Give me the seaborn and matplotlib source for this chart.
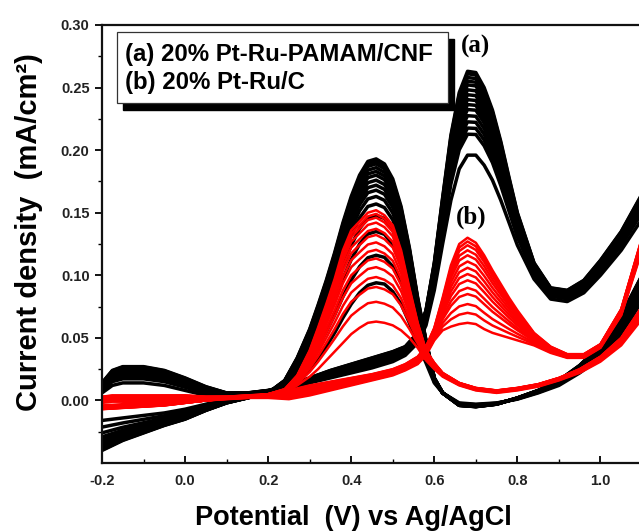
import numpy as np
import pandas as pd
import matplotlib
matplotlib.use("Agg")
import matplotlib.pyplot as plt
import seaborn as sns
from matplotlib.patches import Rectangle

# ---------------- data ----------------
# potentials of the anodic (forward) and cathodic (reverse) sweeps, V vs Ag/AgCl
E_fwd = [-0.2, -0.175, -0.15, -0.1, -0.05, 0.0, 0.05, 0.1, 0.15, 0.2, 0.25, 0.3, 0.35,
         0.4, 0.45, 0.5, 0.53, 0.56, 0.58, 0.60, 0.62, 0.64, 0.66, 0.68, 0.70, 0.72,
         0.74, 0.76, 0.78, 0.80, 0.84, 0.88, 0.92, 0.96, 1.0, 1.05, 1.1, 1.15]
E_rev = [1.15, 1.1, 1.05, 1.0, 0.95, 0.9, 0.85, 0.8, 0.75, 0.7, 0.66, 0.62, 0.6, 0.58,
         0.56, 0.54, 0.52, 0.5, 0.48, 0.46, 0.44, 0.42, 0.4, 0.38, 0.36, 0.34, 0.32,
         0.3, 0.27, 0.24, 0.2, 0.15, 0.1, 0.05, 0.0, -0.05, -0.1, -0.15, -0.2]

# (a) 20% Pt-Ru-PAMAM/CNF : first and last cycle, mA/cm2
a_fwd_first = [0.006, 0.012, 0.014, 0.014, 0.012, 0.008, 0.004, 0.003, 0.004, 0.006, 0.009,
               0.014, 0.018, 0.022, 0.026, 0.031, 0.036, 0.046, 0.060, 0.088, 0.125, 0.160,
               0.185, 0.196, 0.196, 0.188, 0.176, 0.160, 0.142, 0.124, 0.097, 0.081, 0.079,
               0.086, 0.100, 0.120, 0.145, 0.180]
a_fwd_last = [0.014, 0.024, 0.027, 0.027, 0.024, 0.018, 0.011, 0.006, 0.006, 0.008, 0.012,
              0.018, 0.024, 0.029, 0.034, 0.039, 0.043, 0.054, 0.072, 0.110, 0.162, 0.212,
              0.246, 0.263, 0.262, 0.250, 0.232, 0.207, 0.178, 0.150, 0.110, 0.090, 0.088,
              0.096, 0.112, 0.135, 0.165, 0.200]
a_rev_first = [0.120, 0.080, 0.052, 0.034, 0.022, 0.012, 0.006, 0.001, -0.002, -0.003, -0.002,
               0.006, 0.014, 0.030, 0.045, 0.062, 0.077, 0.087, 0.093, 0.094, 0.092, 0.086,
               0.077, 0.066, 0.054, 0.043, 0.033, 0.025, 0.016, 0.009, 0.005, 0.003, 0.001,
               -0.003, -0.007, -0.010, -0.012, -0.014, -0.016]
a_rev_last = [0.150, 0.100, 0.068, 0.044, 0.028, 0.016, 0.008, 0.002, -0.003, -0.005, -0.004,
              0.006, 0.018, 0.048, 0.082, 0.122, 0.155, 0.177, 0.189, 0.193, 0.191, 0.180,
              0.163, 0.142, 0.118, 0.096, 0.076, 0.057, 0.034, 0.016, 0.006, 0.002, -0.002,
              -0.008, -0.015, -0.020, -0.026, -0.032, -0.040]
a_fwd_peaks = [0.197, 0.214, 0.219, 0.224, 0.229, 0.234, 0.238, 0.242, 0.246, 0.250,
               0.254, 0.257, 0.260, 0.263, 0.265]
a_rev_peaks = [0.094, 0.116, 0.135, 0.148, 0.157, 0.163, 0.168, 0.172, 0.176, 0.180,
               0.183, 0.186, 0.189, 0.191, 0.193]

# (b) 20% Pt-Ru/C : first and last cycle, mA/cm2
b_fwd_first = [-0.002, -0.001, -0.001, -0.001, 0.000, 0.001, 0.001, 0.002, 0.002, 0.002, 0.001,
               0.004, 0.008, 0.012, 0.016, 0.020, 0.024, 0.029, 0.036, 0.048, 0.056, 0.059,
               0.061, 0.062, 0.061, 0.057, 0.054, 0.052, 0.050, 0.048, 0.044, 0.038, 0.034,
               0.034, 0.042, 0.068, 0.120, 0.190]
b_fwd_last = [0.003, 0.004, 0.004, 0.004, 0.004, 0.004, 0.003, 0.003, 0.004, 0.005, 0.008,
              0.012, 0.015, 0.018, 0.021, 0.025, 0.029, 0.035, 0.043, 0.058, 0.082, 0.108,
              0.125, 0.130, 0.126, 0.116, 0.104, 0.093, 0.082, 0.072, 0.054, 0.043, 0.037,
              0.037, 0.045, 0.073, 0.130, 0.200]
b_rev_first = [0.150, 0.065, 0.044, 0.031, 0.022, 0.016, 0.011, 0.008, 0.006, 0.008, 0.012,
               0.019, 0.025, 0.032, 0.042, 0.050, 0.056, 0.060, 0.062, 0.063, 0.062, 0.058,
               0.053, 0.046, 0.039, 0.032, 0.025, 0.019, 0.012, 0.006, 0.004, 0.002, 0.001,
               0.000, -0.001, -0.002, -0.003, -0.003, -0.004]
b_rev_last = [0.170, 0.075, 0.050, 0.035, 0.025, 0.018, 0.013, 0.010, 0.008, 0.010, 0.014,
              0.022, 0.030, 0.040, 0.062, 0.090, 0.120, 0.140, 0.148, 0.152, 0.150, 0.143,
              0.136, 0.120, 0.097, 0.077, 0.058, 0.040, 0.020, 0.009, 0.005, 0.003, 0.002,
              0.000, -0.002, -0.004, -0.005, -0.006, -0.007]
b_fwd_peaks = [0.062, 0.070, 0.077, 0.085, 0.090, 0.096, 0.101, 0.106, 0.111, 0.116,
               0.120, 0.124, 0.127, 0.130]
b_rev_peaks = [0.062, 0.078, 0.090, 0.098, 0.106, 0.113, 0.120, 0.126, 0.132, 0.137,
               0.142, 0.146, 0.149, 0.152]

legend_labels = ["(a) 20% Pt-Ru-PAMAM/CNF", "(b) 20% Pt-Ru/C"]
x_ticks = [-0.2, 0.0, 0.2, 0.4, 0.6, 0.8, 1.0]
y_ticks = [0.00, 0.05, 0.10, 0.15, 0.20, 0.25, 0.30]


def build_cycles(f_first, f_last, r_first, r_last, fpk, rpk):
    f0, f1 = np.asarray(f_first), np.asarray(f_last)
    r0, r1 = np.asarray(r_first), np.asarray(r_last)
    frames = []
    for k, (pf, pr) in enumerate(zip(fpk, rpk)):
        wf = (pf - fpk[0]) / (fpk[-1] - fpk[0])
        wr = (pr - rpk[0]) / (rpk[-1] - rpk[0])
        j = np.concatenate([f0 + wf * (f1 - f0), r0 + wr * (r1 - r0)])
        E = np.concatenate([E_fwd, E_rev])
        frames.append(pd.DataFrame({"E": E, "j": j, "cycle": k}))
    return pd.concat(frames, ignore_index=True)


df_a = build_cycles(a_fwd_first, a_fwd_last, a_rev_first, a_rev_last, a_fwd_peaks, a_rev_peaks)
df_b = build_cycles(b_fwd_first, b_fwd_last, b_rev_first, b_rev_last, b_fwd_peaks, b_rev_peaks)

# ---------------- figure ----------------
W, H = 639, 532
fig = plt.figure(figsize=(W / 100, H / 100), dpi=100)
ax = fig.add_axes([102 / W, (H - 463) / H, 540 / W, 438 / H])

sns.lineplot(data=df_a, x="E", y="j", units="cycle", estimator=None, sort=False,
             color="black", linewidth=2.5, ax=ax, legend=False)
sns.lineplot(data=df_b, x="E", y="j", units="cycle", estimator=None, sort=False,
             color="#ff0000", linewidth=1.8, ax=ax, legend=False)

ax.set_xlim(-0.2, 1.1)
ax.set_ylim(-0.05, 0.30)
ax.set_xticks(x_ticks)
ax.set_xticklabels([f"{v:.1f}" for v in x_ticks])
ax.set_yticks(y_ticks)
ax.set_yticklabels([f"{v:.2f}" for v in y_ticks])
ax.set_xticks(np.arange(-0.1, 1.1, 0.2), minor=True)
ax.set_yticks(np.arange(-0.025, 0.30, 0.05), minor=True)

for lab in ax.get_xticklabels() + ax.get_yticklabels():
    lab.set_fontfamily("Liberation Sans")
    lab.set_fontweight("bold")
    lab.set_fontsize(10.5)
    lab.set_color("#222222")

ax.tick_params(axis="x", which="major", direction="in", length=5, width=1.3, pad=8)
ax.tick_params(axis="x", which="minor", direction="in", length=3, width=1.0)
ax.tick_params(axis="y", which="major", direction="out", length=5, width=1.3, pad=4)
ax.tick_params(axis="y", which="minor", direction="out", length=3, width=1.0)

for s in ["left", "bottom", "top", "right"]:
    ax.spines[s].set_linewidth(1.6)
    ax.spines[s].set_color("#111111")

ax.set_xlabel("Potential  (V) vs Ag/AgCl", fontfamily="Liberation Sans", fontweight="bold",
              fontsize=19.5)
ax.xaxis.set_label_coords((353 - 102) / 540, (463 - 505) / 438)
ax.set_ylabel("Current density  (mA/cm\u00b2)", fontfamily="Liberation Sans",
              fontweight="bold", fontsize=21)
ax.yaxis.set_label_coords((43 - 102) / 540, (463 - 232) / 438)

# legend box with black drop shadow
bx0, by0 = 15 / 540, (463 - 103) / 438
bw, bh = 331 / 540, 71 / 438
ax.add_patch(Rectangle((bx0 + 6 / 540, by0 - 7 / 438), bw, bh, transform=ax.transAxes,
                       facecolor="black", edgecolor="black", zorder=5, clip_on=False))
ax.add_patch(Rectangle((bx0, by0), bw, bh, transform=ax.transAxes,
                       facecolor="white", edgecolor="#333333", linewidth=0.9, zorder=6,
                       clip_on=False))
ax.text(23 / 540, (463 - 55) / 438, legend_labels[0], transform=ax.transAxes,
        fontfamily="Liberation Sans", fontweight="bold", fontsize=17.3, va="center",
        ha="left", zorder=7)
ax.text(23 / 540, (463 - 83) / 438, legend_labels[1], transform=ax.transAxes,
        fontfamily="Liberation Sans", fontweight="bold", fontsize=17.3, va="center",
        ha="left", zorder=7)

ax.text(0.699, 0.283, "(a)", fontfamily="Liberation Serif", fontweight="bold",
        fontsize=18, ha="center", va="center", zorder=7)
ax.text(0.689, 0.146, "(b)", fontfamily="Liberation Serif", fontweight="bold",
        fontsize=18, ha="center", va="center", zorder=7)

fig.savefig("out.png", dpi=100)
